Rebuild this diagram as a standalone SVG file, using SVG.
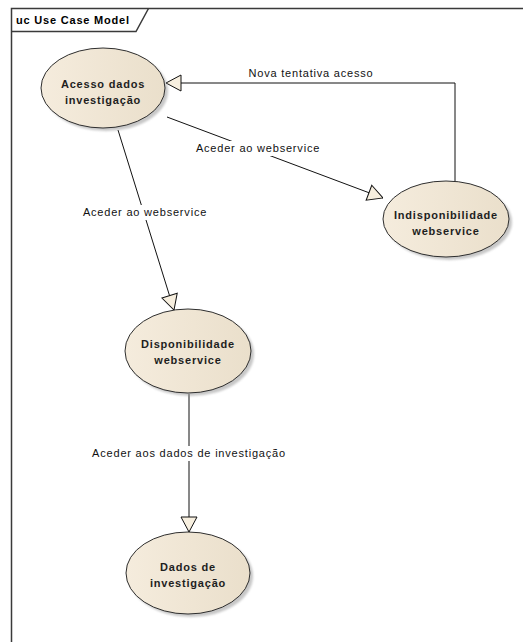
<svg xmlns="http://www.w3.org/2000/svg" width="523" height="642" viewBox="0 0 523 642">
  <style>
    .frame { fill: none; stroke: #3a3a3a; stroke-width: 1.5; }
    .uc { fill: url(#ucFill); stroke: #2e2e2e; stroke-width: 1; }
    .shadow { fill: #9a9a9a; opacity: 0.55; }
    .name { font-family: "Liberation Sans", Arial, sans-serif; font-size: 11px; font-weight: bold; fill: #1e1e1e; text-anchor: middle; letter-spacing: 0.8px; }
    .title { font-family: "Liberation Sans", Arial, sans-serif; font-size: 11px; font-weight: bold; fill: #000; letter-spacing: 0.8px; }
    .edge { fill: none; stroke: #111; stroke-width: 1; }
    .lbl { font-family: "Liberation Sans", Arial, sans-serif; font-size: 11px; fill: #111; text-anchor: middle; letter-spacing: 0.8px; }
    .lblbg { fill: #fff; }
  </style>
  <defs>
    <linearGradient id="ucFill" x1="0" y1="0" x2="1" y2="0">
      <stop offset="0" stop-color="#f5ecdd"/>
      <stop offset="1" stop-color="#eadfcb"/>
    </linearGradient>
    <filter id="soft" x="-10%" y="-10%" width="120%" height="120%">
      <feGaussianBlur stdDeviation="1.2"/>
    </filter>
    <marker id="gen" viewBox="0 0 16 18" refX="16" refY="9" markerWidth="16" markerHeight="18" markerUnits="userSpaceOnUse" orient="auto">
      <path d="M1,1 L16,9 L1,17 Z" fill="#f7efdf" stroke="#111" stroke-width="1"/>
    </marker>
  </defs>

  <rect width="523" height="642" fill="#fff"/>

  <!-- diagram frame with name tab -->
  <g id="frame">
    <path class="frame" d="M11.5,650 L11.5,8.5 L530,8.5"/>
    <path class="frame" d="M11.5,31.5 L136,31.5 L148.5,8.5" stroke-width="1"/>
    <text class="title" x="16" y="24">uc Use Case Model</text>
  </g>

  <!-- connectors -->
  <g id="connectors">
    <path class="edge" d="M118,130 L174,310" marker-end="url(#gen)"/>
    <path class="edge" d="M167,117 L383,198" marker-end="url(#gen)"/>
    <path class="edge" d="M455,181 L455,83 L166,83" marker-end="url(#gen)"/>
    <path class="edge" d="M189,394 L189,532" marker-end="url(#gen)"/>

    <rect class="lblbg" x="80" y="205" width="132" height="15"/>
    <text class="lbl" x="145" y="216">Aceder ao webservice</text>
    <rect class="lblbg" x="192" y="141" width="132" height="15"/>
    <text class="lbl" x="258" y="152">Aceder ao webservice</text>
    <text class="lbl" x="311" y="77">Nova tentativa acesso</text>
    <rect class="lblbg" x="88" y="446" width="202" height="15"/>
    <text class="lbl" x="189" y="457">Aceder aos dados de investigação</text>
  </g>

  <!-- use cases -->
  <g id="acesso">
    <ellipse class="shadow" cx="106" cy="91" rx="62" ry="40" filter="url(#soft)"/>
    <ellipse class="uc" cx="103" cy="88" rx="62" ry="40"/>
    <text class="name" x="103" y="88">Acesso dados</text>
    <text class="name" x="103" y="104">investigação</text>
  </g>

  <g id="indisponibilidade">
    <ellipse class="shadow" cx="449" cy="222" rx="63" ry="38" filter="url(#soft)"/>
    <ellipse class="uc" cx="446" cy="219" rx="63" ry="38"/>
    <text class="name" x="446" y="219">Indisponibilidade</text>
    <text class="name" x="446" y="235">webservice</text>
  </g>

  <g id="disponibilidade">
    <ellipse class="shadow" cx="191" cy="354" rx="63" ry="42" filter="url(#soft)"/>
    <ellipse class="uc" cx="188" cy="351" rx="63" ry="42"/>
    <text class="name" x="188" y="348">Disponibilidade</text>
    <text class="name" x="188" y="364">webservice</text>
  </g>

  <g id="dados">
    <ellipse class="shadow" cx="191" cy="576" rx="62" ry="41" filter="url(#soft)"/>
    <ellipse class="uc" cx="188" cy="573" rx="62" ry="41"/>
    <text class="name" x="188" y="571">Dados de</text>
    <text class="name" x="188" y="587">investigação</text>
  </g>
</svg>
